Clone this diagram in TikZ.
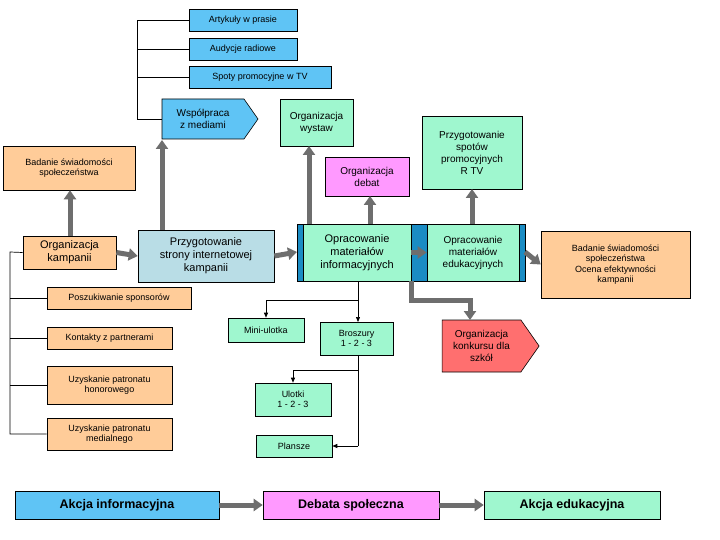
\documentclass[tikz,border=0pt]{standalone}
\usepackage{fontspec}
\setmainfont{Liberation Sans}
\usetikzlibrary{arrows.meta,shapes.symbols}
\definecolor{cblue}{HTML}{5FC4F5}
\definecolor{corange}{HTML}{FFCC99}
\definecolor{cteal}{HTML}{B9DDE6}
\definecolor{cgreen}{HTML}{9FF7CF}
\definecolor{cmag}{HTML}{FF99FF}
\definecolor{cred}{HTML}{FF6F6F}
\definecolor{cbar}{HTML}{1A8CC4}
\definecolor{carr}{HTML}{6E6E6E}
\begin{document}
\begin{tikzpicture}[x=1pt,y=-1pt,
 box/.style={draw=black,line width=0.6pt,align=center,inner sep=1pt,font=\fontsize{9}{10.5}\selectfont},
 big/.style={font=\fontsize{11}{13}\selectfont},
 thick arr/.style={draw=carr,line width=5pt,-{Triangle[width=12pt,length=9pt]}},
 thin/.style={draw=black,line width=0.7pt},
 thinarr/.style={thin,-{Triangle[width=4pt,length=5pt]}},
 pent/.style={box,signal,signal to=east,signal pointer angle=110}]
\useasboundingbox (0,0) rectangle (720,540);
\fill[white] (0,0) rectangle (720,540);
% top blue
\node[box,fill=cblue,minimum width=108pt,minimum height=22pt] (art) at (243,20) {Artykuły w prasie};
\node[box,fill=cblue,minimum width=108pt,minimum height=22pt] (aud) at (243,49) {Audycje radiowe};
\node[box,fill=cblue,minimum width=142pt,minimum height=22pt] (spot) at (260,77) {Spoty promocyjne w TV};
\node[pent,fill=cblue,minimum width=96pt,minimum height=40pt,font=\fontsize{10}{12}\selectfont] (wsp) at (203,119) {Współpraca\\z mediami};
\coordinate (bt) at (137,20); \coordinate (bb) at (137,119);
\draw[thin] (art.west) -- (bt) -- (bb) -- (wsp.west);
\draw[thin] (137,49) -- (aud.west);
\draw[thin] (137,77) -- (spot.west);
% left
\node[box,fill=corange,minimum width=132pt,minimum height=44pt] (bad) at (69,168) {Badanie świadomości\\społeczeństwa};
\node[box,big,fill=corange,minimum width=93pt,minimum height=33pt] (kam) at (69.5,252.5) {Organizacja\\kampanii};
\node[box,big,fill=cteal,minimum width=136pt,minimum height=52pt] (str) at (206,256) {Przygotowanie\\strony internetowej\\kampanii};
% central block
\draw[fill=cbar,line width=0.6pt] (297,224) rectangle (525,281);
\node[box,big,fill=cgreen,minimum width=108pt,minimum height=57pt] (inf) at (357,252.5) {Opracowanie\\materiałów\\informacyjnych};
\node[box,fill=cgreen,font=\fontsize{10}{12}\selectfont,minimum width=92pt,minimum height=57pt] (edu) at (473,252.5) {Opracowanie\\materiałów\\edukacyjnych};
\node[box,fill=corange,minimum width=149pt,minimum height=67pt] (ocen) at (615.5,264.5) {Badanie świadomości\\społeczeństwa\\Ocena efektywności\\kampanii};
% tops
\node[box,fill=cgreen,font=\fontsize{10}{12}\selectfont,minimum width=73pt,minimum height=47pt] (wys) at (316.5,122.5) {Organizacja\\wystaw};
\node[box,fill=cmag,font=\fontsize{10}{12}\selectfont,minimum width=84pt,minimum height=39pt] (deb) at (367,176.5) {Organizacja\\debat};
\node[box,fill=cgreen,font=\fontsize{10}{12}\selectfont,minimum width=100pt,minimum height=73pt] (rtv) at (472,152.5) {Przygotowanie\\spotów\\promocyjnych\\R TV};
\node[pent,fill=cred,font=\fontsize{10}{12}\selectfont,minimum width=97pt,minimum height=52pt] (kon) at (481.5,346) {Organizacja\\konkursu dla\\szkół};
% thick arrows
\draw[thick arr] (70,236) -- (bad.south -| 70,0);
\draw[thick arr] (162,230) -- (162,140);
\draw[thick arr] (kam.east) -- (str.west);
\draw[thick arr] (str.east) -- (297,252);
\draw[thick arr] (inf.east) -- (edu.west);
\draw[thick arr] (525,252) -- (ocen.west);
\draw[thick arr] (309,224) -- (309,146);
\draw[thick arr] (370,224) -- (370,196);
\draw[thick arr] (472,224) -- (472,189);
\coordinate (k1) at (411,300); \coordinate (k2) at (470,300);
\draw[thick arr] (411,281) -- (k1) -- (k2) -- (470,320);
% small tree
\node[box,fill=cgreen,minimum width=76pt,minimum height=24pt] (mini) at (266,330) {Mini-ulotka};
\node[box,fill=cgreen,minimum width=73pt,minimum height=33pt] (bro) at (356.5,338.5) {Broszury\\1 - 2 - 3};
\node[box,fill=cgreen,minimum width=76pt,minimum height=33pt] (ulo) at (293,399.5) {Ulotki\\1 - 2 - 3};
\node[box,fill=cgreen,minimum width=76pt,minimum height=22pt] (pla) at (294,446) {Plansze};
\coordinate (t1) at (358,300); \coordinate (t2) at (266,300);
\draw[thinarr] (358,281) -- (358,322);
\draw[thinarr] (t1) -- (t2) -- (mini.north);
\coordinate (u1) at (358,370); \coordinate (u2) at (293,370);
\draw[thin] (358,355) -- (358,446);
\draw[thinarr] (u1) -- (u2) -- (ulo.north);
\draw[thinarr] (358,446) -- (pla.east);
% left tree
\node[box,fill=corange,minimum width=144pt,minimum height=22pt] (pos) at (119,298) {Poszukiwanie sponsorów};
\node[box,fill=corange,minimum width=125pt,minimum height=22pt] (kon2) at (109.5,338) {Kontakty z partnerami};
\node[box,fill=corange,minimum width=125pt,minimum height=38pt] (hon) at (109.5,385) {Uzyskanie patronatu\\honorowego};
\node[box,fill=corange,minimum width=125pt,minimum height=32pt] (med) at (109.5,434) {Uzyskanie patronatu\\medialnego};
\coordinate (l1) at (10,252); \coordinate (l2) at (10,434);
\draw[thin] (kam.west) -- (l1) -- (l2) -- (med.west);
\draw[thin] (10,298) -- (pos.west);
\draw[thin] (10,338) -- (kon2.west);
\draw[thin] (10,385) -- (hon.west);
% legend
\node[box,fill=cblue,font=\fontsize{12.5}{14}\bfseries,minimum width=204pt,minimum height=28pt] (la) at (117,505) {Akcja informacyjna};
\node[box,fill=cmag,font=\fontsize{12.5}{14}\bfseries,minimum width=176pt,minimum height=28pt] (lb) at (351,505) {Debata społeczna};
\node[box,fill=cgreen,font=\fontsize{12.5}{14}\bfseries,minimum width=176pt,minimum height=28pt] (lc) at (572,505) {Akcja edukacyjna};
\draw[thick arr] (la.east) -- (lb.west);
\draw[thick arr] (lb.east) -- (lc.west);
\end{tikzpicture}
\end{document}
